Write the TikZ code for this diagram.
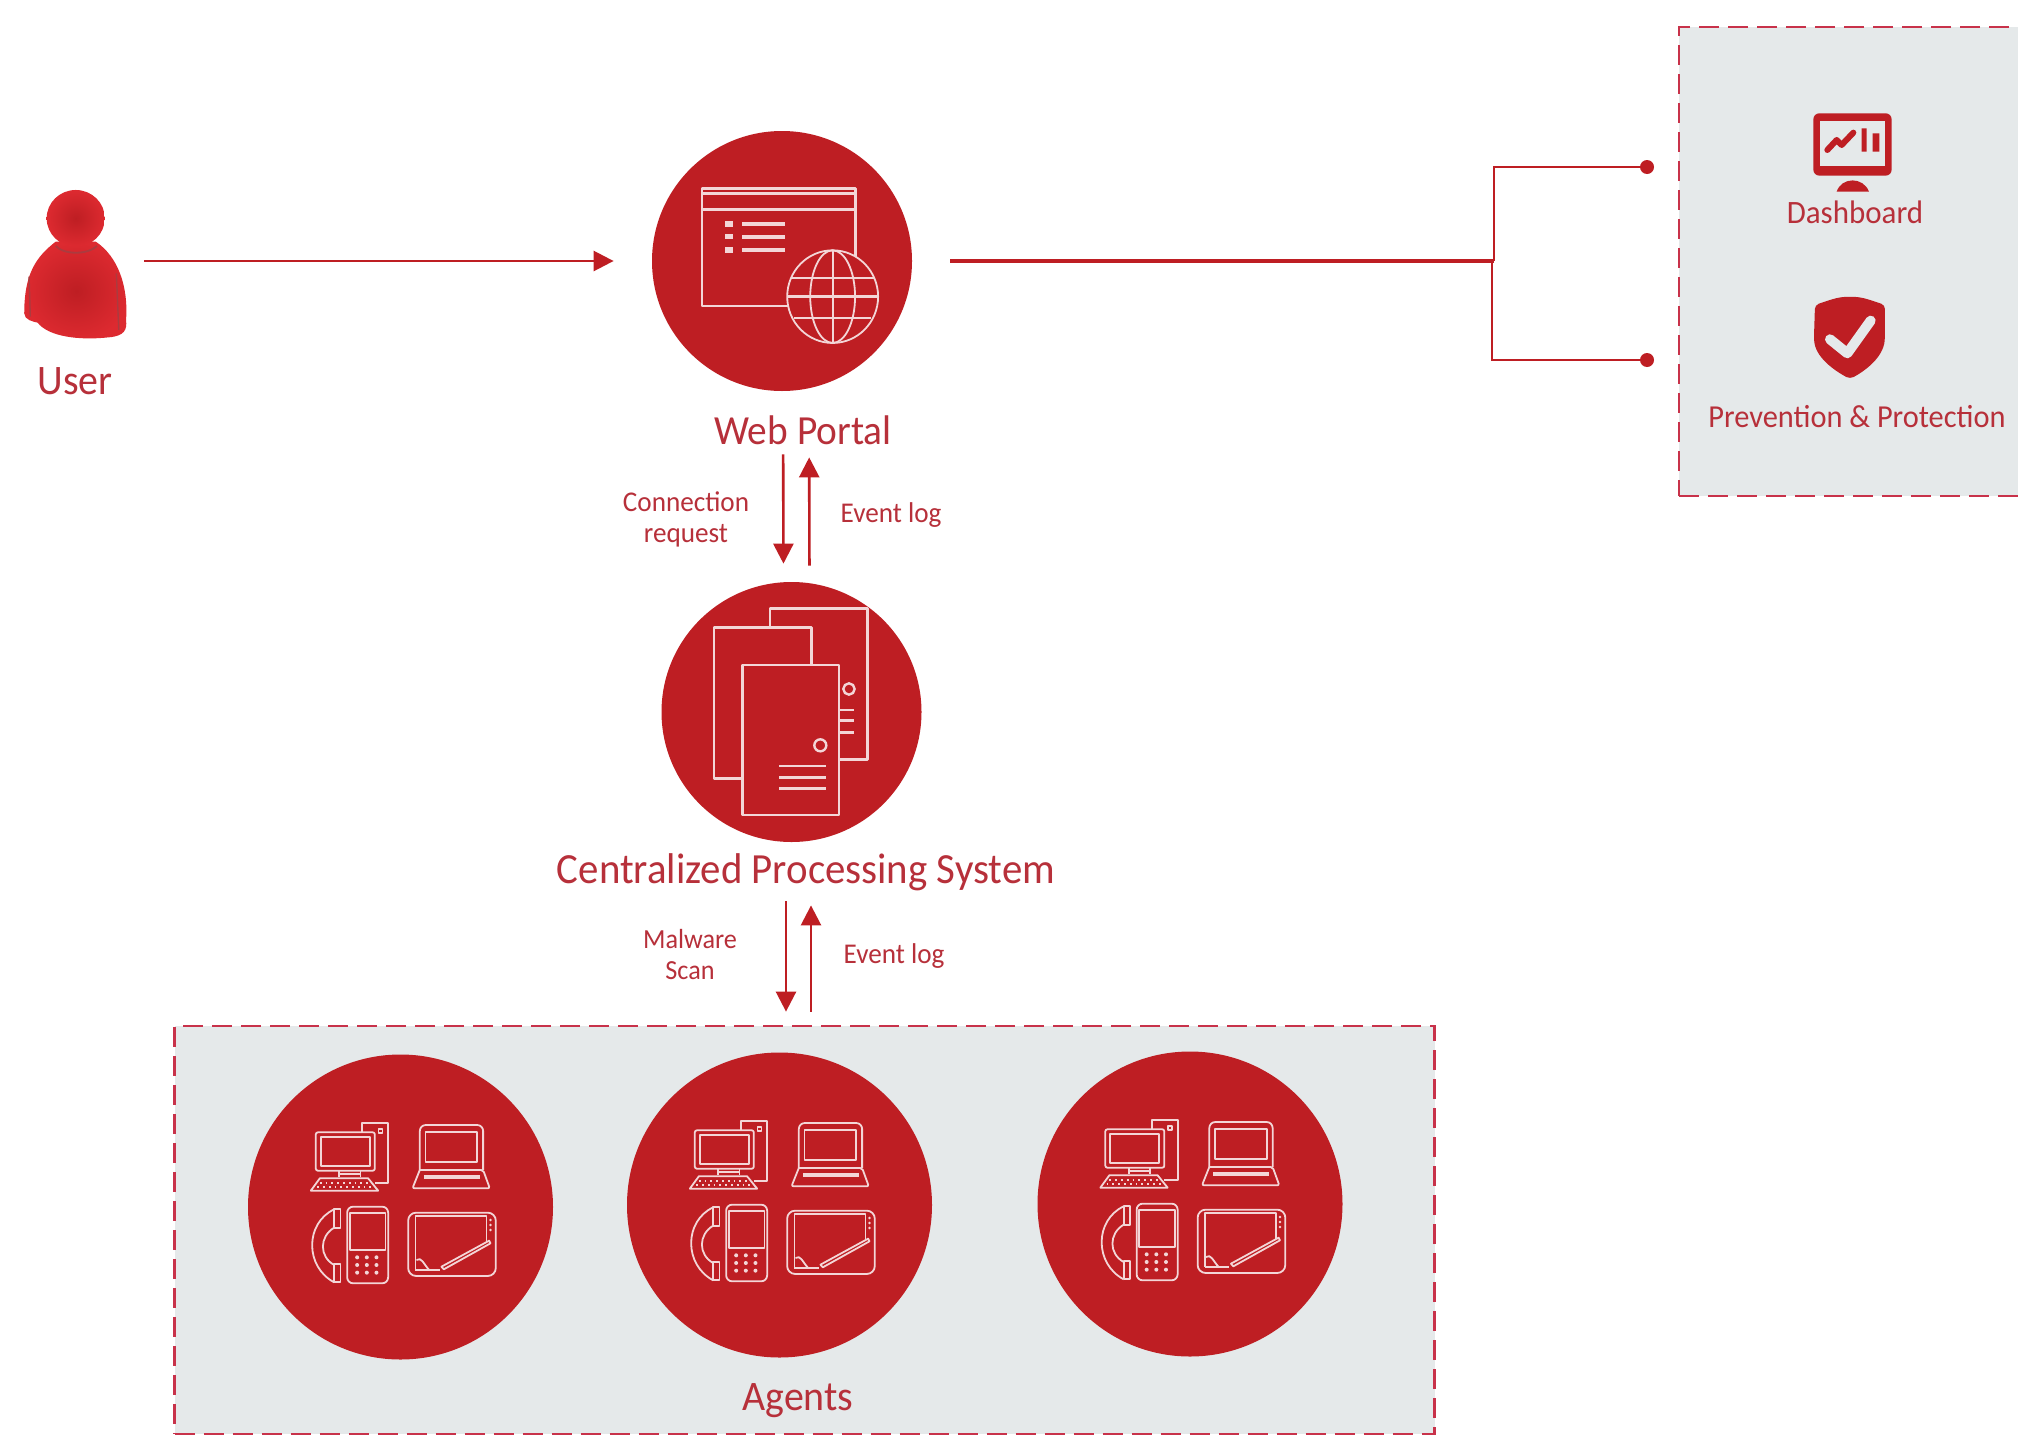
\documentclass[tikz,border=0pt]{standalone}
\usepackage{fontspec}
\setmainfont{Carlito}[FakeStretch=0.95]
\usetikzlibrary{arrows.meta,calc}
\definecolor{brandred}{HTML}{BE1E23}
\definecolor{txtred}{HTML}{B7303A}
\definecolor{panelgrey}{HTML}{E5E9EA}
\definecolor{dashred}{HTML}{C8324A}
\definecolor{userlight}{HTML}{DD2A30}
\tikzset{
  disc/.style={circle,fill=brandred,draw=none,minimum size=#1,inner sep=0pt},
  panel/.style={rectangle,fill=panelgrey,draw=dashred,line width=1.4pt,dash pattern=on 10pt off 4.5pt,inner sep=0pt},
  lab/.style={text=txtred,inner sep=0pt,align=center},
  flow/.style={brandred,line width=1.3pt,-{Triangle[length=10pt,width=10pt]}},
  feed/.style={brandred,line width=1.8pt},
  enddot/.style={circle,fill=brandred,minimum size=7pt,inner sep=0pt},
  glyph/.style={white!82!brandred,line width=1.2pt,line join=round},
  glyphthin/.style={white!82!brandred,line width=.9pt,line join=round},
}
% device cluster: coordinates are those of a 3x crop, centred on (482,471)
\newcommand{\devicecluster}[2]{%
\begin{scope}[shift={(#1-160.67,#2-157)},scale=0.3333,glyphthin]
 % tower
 \draw (367,247)--(367,220)--(445,220)--(445,400)--(405,400);
 \draw (416,238) rectangle (428,250);
 % monitor
 \draw[rounded corners=1pt] (228,247) rectangle (405,362);
 \draw (243,262) rectangle (390,347);
 \draw (298,362)--(298,380) (362,362)--(362,380) (298,372)--(362,372);
 % keyboard
 \draw (240,385)--(385,385)--(415,422)--(213,422)--cycle;
 \draw[dotted] (240,400)--(385,400) (232,411)--(395,411);
 % laptop
 \draw[rounded corners=3pt] (540,360)--(540,225)--(730,225)--(730,360);
 \draw (557,247) rectangle (712,335);
 \draw[rounded corners=1pt] (540,360)--(730,360)--(750,415)--(518,415)--(540,360);
 \fill[white!82!brandred] (552,376) rectangle (720,386);
 % phone
 \draw[rounded corners=3pt] (322,470) rectangle (445,700);
 \draw (330,490) rectangle (437,600);
 \foreach \px in {352,381,410} \foreach \py in {622,645,668}
   \fill[white!82!brandred] (\px,\py) circle[radius=6];
 \draw (283,478) rectangle (302,535);
 \draw (283,642) rectangle (302,697);
 \draw (283,478) .. controls (195,520) and (195,650) .. (283,697);
 \draw (283,533) .. controls (238,560) and (238,620) .. (283,645);
 % tablet
 \draw[rounded corners=4pt] (505,488) rectangle (768,678);
 \draw (527,660)--(527,498)--(740,498)--(740,575);
 \draw (527,660)--(600,660);
 \draw (605,650)--(748,572)--(752,580)--(612,658)--cycle;
 \draw (530,630) .. controls (545,620) and (550,640) .. (568,660);
 \foreach \py in {510,525,540} \fill[white!82!brandred] (752,\py) circle[radius=4];
\end{scope}}
\begin{document}
\begin{tikzpicture}[x=0.5pt,y=-0.5pt]
\clip (0,0) rectangle (2018,1440);
\fill[white] (0,0) rectangle (2018,1440);

% panels
\node[panel,minimum width=630pt,minimum height=204pt] (agents) at (804.5,1230) {};
\node[panel,minimum width=190pt,minimum height=234.5pt] (results) at (1869,261.5) {};

% user
\node[minimum width=52pt,minimum height=75pt,inner sep=0pt] (usericon) at (75,261) {};
\begin{scope}[xscale=0.606,yscale=0.3333,shift={(0,300)}]
 \shade[inner color=brandred,outer color=userlight]
   (92,425) .. controls (60,470) and (40,520) .. (40,640)
   .. controls (40,660) and (55,665) .. (62,668)
   .. controls (80,710) and (130,722) .. (180,712)
   .. controls (205,708) and (210,690) .. (208,660)
   .. controls (212,560) and (195,470) .. (158,425)
   -- cycle;
 \shade[inner color=brandred,outer color=userlight] (125,355) ellipse [x radius=48,y radius=85];
 \draw[brandred!70!gray,line width=.9pt] (92,438) .. controls (105,465) and (145,465) .. (160,438);
 \draw[brandred!70!gray,line width=.7pt] (48,530) -- (50,650) (192,520)--(196,690);
\end{scope}
\node[lab,font=\fontsize{21}{23}\selectfont] (userlab) at (75,381) {User};

% web portal
\node[disc=130pt] (web) at (782,261) {};
\begin{scope}[xscale=0.606,yscale=0.3333,shift={(0,300)}]
 \draw[glyph] (1158,265) rectangle (1412,618);
 \draw[glyph] (1158,280)--(1412,280) (1158,328)--(1412,328);
 \foreach \py in {372,410,450} {
   \fill[white!82!brandred] (1196,\py-8) rectangle (1210,\py+8);
   \fill[white!82!brandred] (1225,\py-6) rectangle (1295,\py+6);
 }
 \fill[brandred] (1374,590) ellipse [x radius=75,y radius=139];
 \draw[glyphthin] (1374,590) ellipse [x radius=75,y radius=139];
 \draw[glyphthin] (1374,590) ellipse [x radius=37,y radius=139];
 \draw[glyphthin] (1374,451)--(1374,729);
 \draw[glyphthin] (1305,535)--(1443,535) (1310,655)--(1438,655);
 \draw[glyph] (1299,590)--(1449,590);
\end{scope}
\node[lab,font=\fontsize{20.7}{23}\selectfont] (weblab) at (803,430) {Web Portal};

% central system
\node[disc=130pt] (cps) at (791.5,712) {};
\begin{scope}[shift={(640,570)},scale=0.3333]
 \draw[glyph] (390,115) rectangle (683,568);
 \draw[glyph] (627,357) circle[radius=17];
 \draw[glyph] (597,420)--(643,420) (597,452)--(643,452) (597,488)--(643,488);
 \draw[glyph,fill=brandred] (222,173) rectangle (515,625);
 \draw[glyph,fill=brandred] (307,285) rectangle (597,735);
 \draw[glyph] (541,526) circle[radius=18];
 \draw[glyph] (418,588)--(558,588) (418,622)--(558,622) (418,656)--(558,656);
\end{scope}
\node[lab,font=\fontsize{21.5}{24}\selectfont] (cpslab) at (806,872) {Centralized Processing System};

% agents
\node[disc=152.5pt] (agentA) at (400.5,1207) {};
\node[disc=152.5pt] (agentB) at (779.5,1205) {};
\node[disc=152.5pt] (agentC) at (1190,1204) {};
\devicecluster{400.5}{1207}
\devicecluster{779.5}{1205}
\devicecluster{1190}{1204}
\node[lab,font=\fontsize{21}{23}\selectfont] (agentslab) at (798,1401) {Agents};

% results panel content
\begin{scope}[shift={(1650,0)},scale=0.3333]
 \fill[brandred,rounded corners=3pt] (490,340) rectangle (725,527);
 \fill[panelgrey] (510,362) rectangle (705,497);
 \draw[brandred,line width=3pt,line cap=round,line join=round] (532,450)--(560,420)--(575,435)--(610,398);
 \fill[brandred] (635,385) rectangle (650,455) (668,400) rectangle (688,455);
 \fill[brandred] (560,575) .. controls (575,530) and (640,530) .. (657,575) -- cycle;
 \fill[brandred,rounded corners=2pt] (495,915) .. controls (540,900) and (560,892) .. (600,890)
   .. controls (640,892) and (660,900) .. (705,915)
   -- (705,1010) .. controls (700,1070) and (650,1110) .. (600,1137)
   .. controls (550,1110) and (495,1070) .. (492,1010) -- cycle;
 \draw[panelgrey,line width=5pt,line cap=round,line join=round] (540,1018)--(592,1060)--(662,962);
\end{scope}
\node[lab,font=\fontsize{16.3}{18}\selectfont] (dashlab) at (1855,212) {Dashboard};
\node[lab,font=\fontsize{16}{18}\selectfont] (protlab) at (1857,417) {Prevention \& Protection};

% flow labels
\node[lab,font=\fontsize{14.3}{15.5}\selectfont] (connlab) at (686,519) {Connection\\request};
\node[lab,font=\fontsize{14.3}{15.5}\selectfont] (evA) at (891,515) {Event log};
\node[lab,font=\fontsize{13.8}{15.5}\selectfont] (scanlab) at (690,955) {Malware\\Scan};
\node[lab,font=\fontsize{14.3}{15.5}\selectfont] (evB) at (894,956) {Event log};

% connectors
\draw[flow,shorten <=8.5pt,shorten >=19pt] (usericon.east) -- (web.west);
\draw[flow,shorten <=31.5pt,shorten >=9pt] ([xshift=0.5pt]web.south) -- ([xshift=-4pt]cps.north);
\draw[flow,shorten <=8pt,shorten >=33pt] ([xshift=9pt]cps.north) -- ([xshift=13.5pt]web.south);
\draw[flow,shorten <=29.5pt,shorten >=6.5pt] ([xshift=-2.75pt]cps.south) -- ([xshift=-9.25pt]agents.north);
\draw[flow,shorten <=6.5pt,shorten >=31.5pt] ([xshift=3.25pt]agents.north) -- ([xshift=9.75pt]cps.south);

\coordinate (branch) at (1494,261);
\node[enddot] (dotA) at (1647,167) {};
\node[enddot] (dotB) at (1647,360) {};
\draw[feed,shorten <=19pt] (web.east) -- (branch);
\draw[brandred,line width=1.1pt] (branch) |- (dotA);
\draw[brandred,line width=1.1pt] ([xshift=-1pt]branch) |- (dotB);
\end{tikzpicture}
\end{document}
